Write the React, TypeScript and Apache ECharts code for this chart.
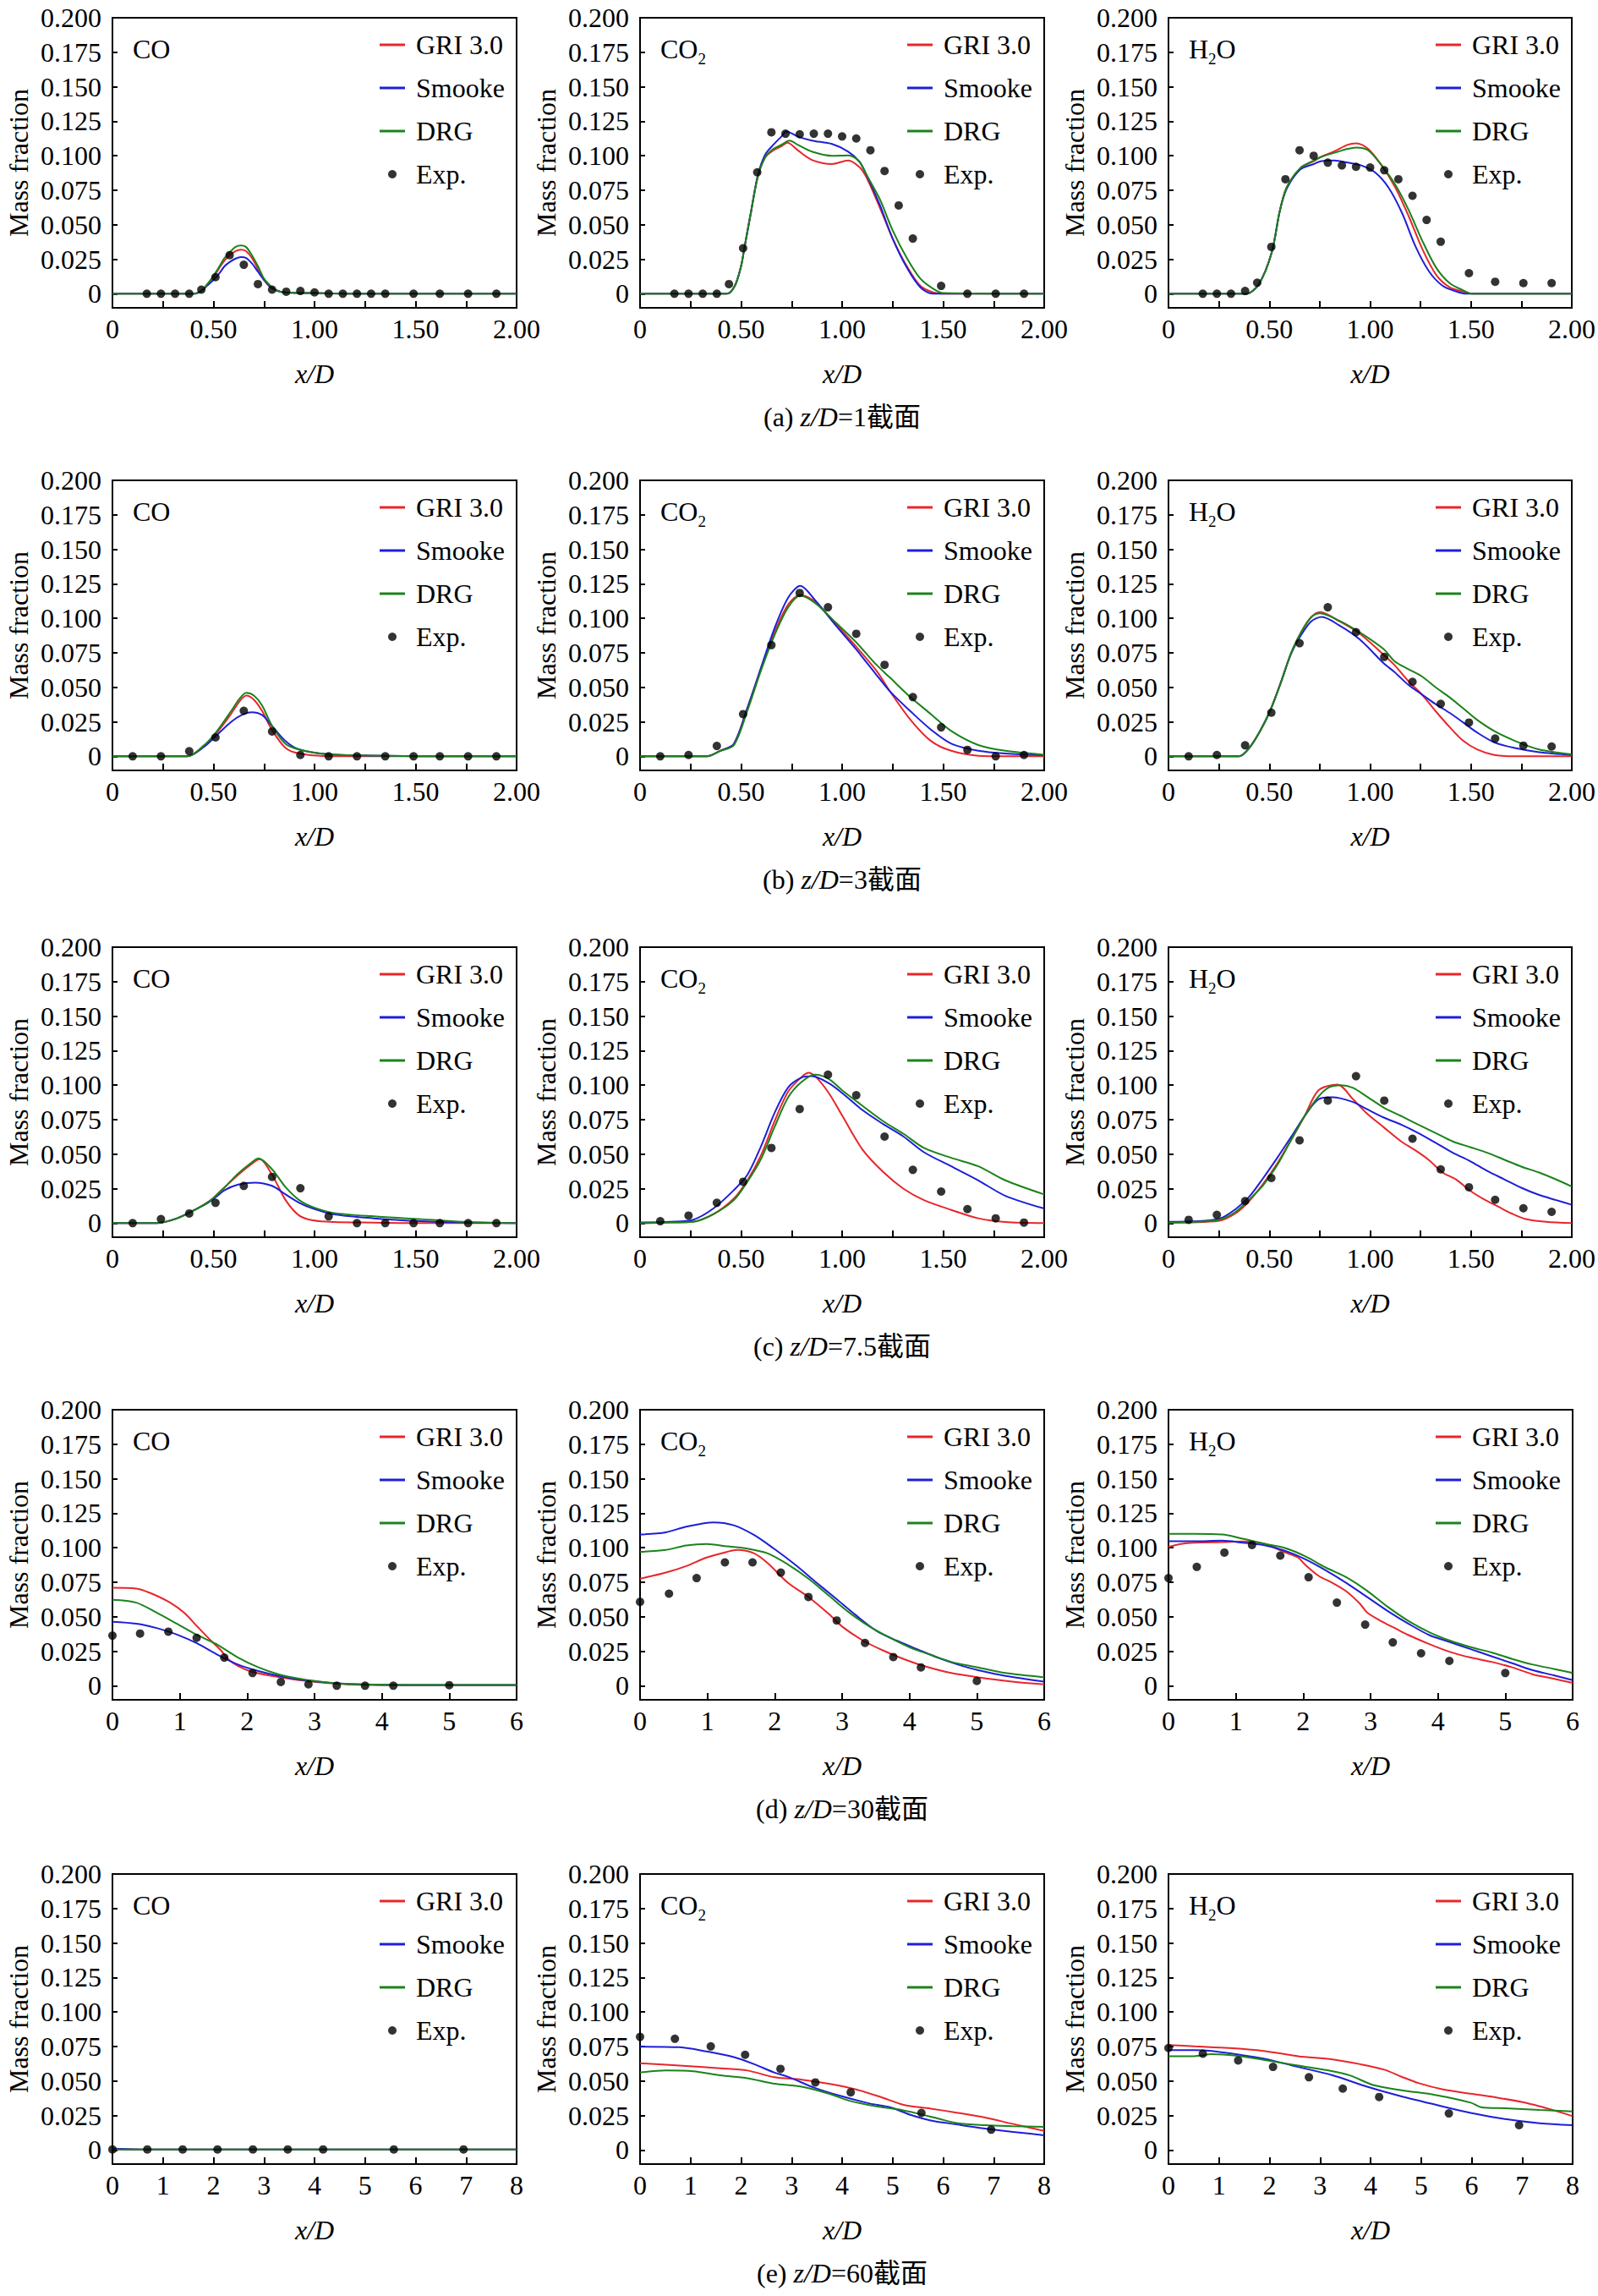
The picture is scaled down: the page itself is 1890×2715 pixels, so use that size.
import React, { useEffect, useRef } from 'react';
import * as echarts from 'echarts';

type P = [number, number];

// ---------- tick values ----------
const Y_TICKS = [0, 0.025, 0.05, 0.075, 0.1, 0.125, 0.15, 0.175, 0.2];
const X_TICKS_2 = [0, 0.25, 0.5, 0.75, 1, 1.25, 1.5, 1.75, 2];
const X_LABELS_2 = [0, 0.5, 1, 1.5, 2];
const X_TICKS_6 = [0, 1, 2, 3, 4, 5, 6];
const X_TICKS_8 = [0, 1, 2, 3, 4, 5, 6, 7, 8];

const SPECIES = ['CO', 'CO2', 'H2O'];
const CAPTION_LETTERS = ['a', 'b', 'c', 'd', 'e'];
const CAPTION_ZD = ['1', '3', '7.5', '30', '60'];
const NAMES = ['GRI 3.0', 'Smooke', 'DRG', 'Exp.'];

// ---------- (a) z/D = 1 ----------
const EXP_X_A = [0.17, 0.24, 0.31, 0.38, 0.44, 0.51, 0.58, 0.65, 0.72, 0.79, 0.86, 0.93, 1.0, 1.07, 1.14, 1.21, 1.28, 1.35, 1.49, 1.62, 1.76, 1.9];
const A1_EXP = [0, 0, 0, 0, 0.003, 0.012, 0.028, 0.021, 0.007, 0.003, 0.0015, 0.002, 0.001, 0, 0, 0, 0, 0, 0, 0, 0, 0];
const A2_EXP = [0, 0, 0, 0, 0.007, 0.033, 0.088, 0.117, 0.116, 0.1156, 0.116, 0.116, 0.114, 0.1125, 0.104, 0.089, 0.064, 0.04, 0.0057, 0, 0, 0];
const A3_EXP = [0, 0, 0, 0.002, 0.008, 0.034, 0.083, 0.104, 0.1, 0.095, 0.093, 0.092, 0.0915, 0.0895, 0.083, 0.071, 0.0535, 0.0377, 0.0149, 0.0087, 0.0077, 0.0077];

const A1_GRI: P[] = [[0, 0], [0.4, 0], [0.44, 0.002], [0.47, 0.007], [0.5, 0.012], [0.53, 0.019], [0.555, 0.024], [0.58, 0.028], [0.61, 0.031], [0.635, 0.032], [0.66, 0.031], [0.69, 0.026], [0.72, 0.018], [0.75, 0.01], [0.78, 0.005], [0.81, 0.0025], [0.85, 0.001], [1.0, 0.0005], [1.3, 0], [2, 0]];
const A1_SMK: P[] = [[0, 0], [0.4, 0], [0.44, 0.002], [0.47, 0.006], [0.5, 0.01], [0.53, 0.015], [0.555, 0.02], [0.58, 0.023], [0.61, 0.0255], [0.635, 0.0265], [0.66, 0.026], [0.69, 0.022], [0.72, 0.016], [0.75, 0.01], [0.78, 0.005], [0.81, 0.0025], [0.85, 0.001], [1.0, 0.0005], [1.3, 0], [2, 0]];
const A1_DRG: P[] = [[0, 0], [0.4, 0], [0.44, 0.002], [0.47, 0.007], [0.5, 0.013], [0.53, 0.02], [0.555, 0.026], [0.58, 0.03], [0.61, 0.034], [0.635, 0.035], [0.66, 0.034], [0.69, 0.028], [0.72, 0.02], [0.75, 0.011], [0.78, 0.006], [0.81, 0.0025], [0.85, 0.001], [1.0, 0.0005], [1.3, 0], [2, 0]];

const A2_GRI: P[] = [[0, 0], [0.43, 0], [0.47, 0.006], [0.5, 0.02], [0.515, 0.032], [0.55, 0.06], [0.583, 0.085], [0.62, 0.099], [0.66, 0.104], [0.7, 0.107], [0.73, 0.1095], [0.78, 0.104], [0.85, 0.097], [0.95, 0.094], [1.03, 0.0966], [1.084, 0.092], [1.118, 0.085], [1.185, 0.063], [1.25, 0.04], [1.32, 0.02], [1.387, 0.0057], [1.45, 0.001], [1.5, 0], [2, 0]];
const A2_SMK: P[] = [[0, 0], [0.43, 0], [0.47, 0.006], [0.5, 0.02], [0.515, 0.032], [0.55, 0.06], [0.583, 0.086], [0.62, 0.101], [0.66, 0.108], [0.7, 0.114], [0.724, 0.1176], [0.78, 0.114], [0.85, 0.111], [0.95, 0.1085], [1.03, 0.103], [1.084, 0.096], [1.118, 0.087], [1.185, 0.065], [1.25, 0.04], [1.32, 0.019], [1.387, 0.0047], [1.45, 0], [2, 0]];
const A2_DRG: P[] = [[0, 0], [0.43, 0], [0.47, 0.006], [0.5, 0.02], [0.515, 0.032], [0.55, 0.06], [0.583, 0.085], [0.62, 0.099], [0.66, 0.105], [0.7, 0.108], [0.74, 0.111], [0.78, 0.108], [0.85, 0.103], [0.95, 0.1], [1.03, 0.1003], [1.084, 0.096], [1.118, 0.087], [1.185, 0.069], [1.25, 0.046], [1.32, 0.026], [1.387, 0.011], [1.45, 0.0037], [1.5, 0.0005], [2, 0]];

const A3_GRI: P[] = [[0, 0], [0.384, 0], [0.448, 0.007], [0.512, 0.03], [0.552, 0.06], [0.586, 0.077], [0.653, 0.091], [0.72, 0.096], [0.754, 0.099], [0.82, 0.103], [0.889, 0.108], [0.93, 0.109], [0.99, 0.105], [1.057, 0.093], [1.125, 0.077], [1.19, 0.0566], [1.26, 0.032], [1.327, 0.0138], [1.394, 0.0047], [1.46, 0.0016], [1.5, 0], [2, 0]];
const A3_SMK: P[] = [[0, 0], [0.384, 0], [0.448, 0.007], [0.512, 0.03], [0.552, 0.06], [0.586, 0.076], [0.653, 0.09], [0.72, 0.094], [0.754, 0.096], [0.822, 0.0966], [0.889, 0.095], [0.956, 0.093], [1.024, 0.088], [1.091, 0.077], [1.158, 0.0586], [1.226, 0.034], [1.293, 0.016], [1.36, 0.0057], [1.428, 0.0016], [1.478, 0], [2, 0]];
const A3_DRG: P[] = [[0, 0], [0.384, 0], [0.448, 0.007], [0.512, 0.03], [0.552, 0.06], [0.586, 0.077], [0.653, 0.091], [0.72, 0.0965], [0.754, 0.099], [0.82, 0.102], [0.889, 0.105], [0.93, 0.106], [0.99, 0.104], [1.057, 0.093], [1.125, 0.079], [1.19, 0.061], [1.26, 0.038], [1.327, 0.019], [1.394, 0.0077], [1.46, 0.0026], [1.51, 0], [2, 0]];

// ---------- (b) z/D = 3 and (c) z/D = 7.5 ----------
const EXP_X_BC = [0.1, 0.24, 0.38, 0.51, 0.65, 0.79, 0.93, 1.07, 1.21, 1.35, 1.49, 1.62, 1.76, 1.9];
const B1_EXP = [0, 0, 0.0037, 0.0137, 0.033, 0.018, 0.001, 0, 0, 0, 0, 0, 0, 0];
const B2_EXP = [0, 0.001, 0.0075, 0.0306, 0.0806, 0.1184, 0.108, 0.0888, 0.0663, 0.0429, 0.021, 0.0047, 0, 0.001];
const B3_EXP = [0, 0.001, 0.008, 0.0316, 0.082, 0.108, 0.09, 0.072, 0.054, 0.038, 0.0245, 0.0129, 0.0078, 0.0071];

const B1_GRI: P[] = [[0, 0], [0.37, 0], [0.454, 0.008], [0.521, 0.018], [0.588, 0.031], [0.63, 0.04], [0.662, 0.044], [0.7, 0.041], [0.74, 0.033], [0.79, 0.019], [0.857, 0.006], [0.924, 0.002], [1.06, 0], [2, 0]];
const B1_SMK: P[] = [[0, 0], [0.37, 0], [0.454, 0.007], [0.521, 0.016], [0.588, 0.025], [0.64, 0.03], [0.689, 0.032], [0.74, 0.03], [0.79, 0.022], [0.857, 0.011], [0.924, 0.005], [1.06, 0.0016], [1.29, 0.0005], [1.6, 0], [2, 0]];
const B1_DRG: P[] = [[0, 0], [0.37, 0], [0.454, 0.008], [0.521, 0.019], [0.588, 0.033], [0.63, 0.042], [0.662, 0.046], [0.7, 0.044], [0.74, 0.037], [0.79, 0.022], [0.857, 0.009], [0.924, 0.005], [1.06, 0.0016], [1.29, 0.0005], [1.6, 0], [2, 0]];

const B2_GRI: P[] = [[0, 0], [0.33, 0], [0.397, 0.004], [0.464, 0.009], [0.531, 0.035], [0.598, 0.063], [0.666, 0.09], [0.733, 0.11], [0.793, 0.117], [0.867, 0.112], [0.968, 0.096], [1.069, 0.0796], [1.17, 0.062], [1.237, 0.047], [1.338, 0.0265], [1.439, 0.0112], [1.54, 0.004], [1.674, 0.0004], [1.808, 0], [2, 0]];
const B2_SMK: P[] = [[0, 0], [0.33, 0], [0.397, 0.004], [0.464, 0.009], [0.531, 0.035], [0.598, 0.064], [0.666, 0.093], [0.733, 0.115], [0.793, 0.1235], [0.867, 0.113], [0.968, 0.095], [1.069, 0.0776], [1.17, 0.059], [1.237, 0.047], [1.338, 0.0327], [1.439, 0.0194], [1.54, 0.0092], [1.674, 0.004], [1.808, 0.002], [2, 0.0008]];
const B2_DRG: P[] = [[0, 0], [0.33, 0], [0.397, 0.004], [0.464, 0.008], [0.531, 0.033], [0.598, 0.062], [0.666, 0.088], [0.733, 0.108], [0.793, 0.1163], [0.867, 0.111], [0.968, 0.097], [1.069, 0.0827], [1.17, 0.0663], [1.237, 0.057], [1.338, 0.0429], [1.439, 0.0306], [1.54, 0.0184], [1.674, 0.0082], [1.808, 0.004], [2, 0.0012]];

const B3_GRI: P[] = [[0, 0], [0.35, 0], [0.4, 0.006], [0.453, 0.018], [0.504, 0.033], [0.556, 0.053], [0.607, 0.0745], [0.658, 0.09], [0.709, 0.101], [0.752, 0.1045], [0.846, 0.098], [0.949, 0.0888], [1.068, 0.0735], [1.12, 0.0663], [1.188, 0.0547], [1.256, 0.0449], [1.325, 0.0327], [1.393, 0.0214], [1.462, 0.0112], [1.53, 0.005], [1.615, 0.001], [1.718, 0], [2, 0]];
const B3_SMK: P[] = [[0, 0], [0.35, 0], [0.4, 0.006], [0.453, 0.018], [0.504, 0.033], [0.556, 0.053], [0.607, 0.074], [0.658, 0.088], [0.709, 0.098], [0.76, 0.101], [0.846, 0.095], [0.949, 0.0847], [1.068, 0.0673], [1.12, 0.0612], [1.188, 0.052], [1.256, 0.0449], [1.325, 0.0378], [1.393, 0.0316], [1.462, 0.0245], [1.53, 0.0173], [1.615, 0.0102], [1.718, 0.006], [1.838, 0.003], [2, 0.001]];
const B3_DRG: P[] = [[0, 0], [0.35, 0], [0.4, 0.006], [0.453, 0.018], [0.504, 0.033], [0.556, 0.053], [0.607, 0.0745], [0.658, 0.09], [0.709, 0.101], [0.752, 0.1037], [0.846, 0.0984], [0.949, 0.0898], [1.068, 0.0776], [1.12, 0.069], [1.188, 0.0633], [1.256, 0.058], [1.325, 0.05], [1.393, 0.0429], [1.462, 0.0347], [1.53, 0.0265], [1.615, 0.0184], [1.718, 0.0112], [1.838, 0.005], [2, 0.0015]];

const C1_EXP = [0, 0.0029, 0.007, 0.0147, 0.027, 0.0335, 0.0253, 0.0049, 0, 0, 0, 0, 0, 0];
const C2_EXP = [0.0014, 0.0055, 0.0147, 0.03, 0.0545, 0.0827, 0.1076, 0.0927, 0.0627, 0.0386, 0.0229, 0.0102, 0.0035, 0.0004];
const C3_EXP = [0.0024, 0.006, 0.016, 0.0327, 0.06, 0.0888, 0.1065, 0.0888, 0.0612, 0.039, 0.026, 0.0169, 0.0108, 0.0082];

const C1_GRI: P[] = [[0, 0], [0.218, 0], [0.32, 0.0035], [0.42, 0.0106], [0.487, 0.0167], [0.555, 0.026], [0.622, 0.035], [0.68, 0.042], [0.729, 0.0463], [0.79, 0.035], [0.857, 0.0167], [0.924, 0.0055], [0.992, 0.002], [1.092, 0.0008], [1.294, 0.0004], [1.529, 0], [2, 0]];
const C1_SMK: P[] = [[0, 0], [0.218, 0], [0.32, 0.0035], [0.42, 0.0106], [0.487, 0.016], [0.555, 0.0239], [0.622, 0.028], [0.706, 0.0294], [0.79, 0.027], [0.857, 0.0208], [0.924, 0.0147], [0.992, 0.0106], [1.092, 0.0065], [1.294, 0.0035], [1.529, 0.0014], [1.73, 0.0005], [2, 0]];
const C1_DRG: P[] = [[0, 0], [0.218, 0], [0.32, 0.0035], [0.42, 0.0106], [0.487, 0.0167], [0.555, 0.026], [0.622, 0.036], [0.68, 0.043], [0.723, 0.047], [0.79, 0.039], [0.857, 0.026], [0.924, 0.0167], [0.992, 0.0116], [1.092, 0.0075], [1.294, 0.0049], [1.529, 0.0029], [1.73, 0.001], [2, 0]];

const C2_GRI: P[] = [[0, 0], [0.15, 0.0005], [0.262, 0.001], [0.363, 0.0065], [0.464, 0.0178], [0.531, 0.031], [0.598, 0.049], [0.666, 0.0739], [0.733, 0.0953], [0.8, 0.106], [0.834, 0.109], [0.87, 0.106], [0.934, 0.0943], [1.0, 0.078], [1.1, 0.0535], [1.203, 0.0371], [1.304, 0.0249], [1.405, 0.0167], [1.54, 0.0096], [1.674, 0.0035], [1.808, 0.0008], [2, 0]];
const C2_SMK: P[] = [[0, 0.0005], [0.15, 0.001], [0.262, 0.0024], [0.363, 0.0106], [0.464, 0.0239], [0.531, 0.035], [0.598, 0.0555], [0.666, 0.08], [0.733, 0.0984], [0.8, 0.1055], [0.85, 0.1065], [0.934, 0.1014], [1.0, 0.0943], [1.1, 0.082], [1.203, 0.0718], [1.304, 0.0627], [1.405, 0.0514], [1.54, 0.0412], [1.674, 0.031], [1.808, 0.0198], [2, 0.0106]];
const C2_DRG: P[] = [[0, 0], [0.15, 0.0005], [0.262, 0.001], [0.363, 0.0065], [0.464, 0.0167], [0.531, 0.03], [0.598, 0.0463], [0.666, 0.0698], [0.733, 0.0912], [0.8, 0.1024], [0.867, 0.1076], [0.934, 0.1045], [1.0, 0.0963], [1.1, 0.0851], [1.203, 0.0739], [1.304, 0.0647], [1.405, 0.0545], [1.54, 0.0473], [1.674, 0.0412], [1.808, 0.031], [2, 0.0208]];

const C3_GRI: P[] = [[0, 0.0004], [0.248, 0.0016], [0.333, 0.0071], [0.402, 0.0163], [0.47, 0.0286], [0.538, 0.0429], [0.607, 0.06], [0.675, 0.0776], [0.744, 0.0963], [0.838, 0.1004], [0.915, 0.0898], [0.983, 0.0796], [1.068, 0.0694], [1.154, 0.0592], [1.222, 0.053], [1.29, 0.0459], [1.359, 0.0367], [1.427, 0.0316], [1.496, 0.0235], [1.564, 0.0173], [1.632, 0.0122], [1.7, 0.0071], [1.77, 0.003], [1.872, 0.001], [2, 0]];
const C3_SMK: P[] = [[0, 0.001], [0.248, 0.003], [0.333, 0.0102], [0.402, 0.0194], [0.47, 0.0327], [0.538, 0.047], [0.607, 0.0622], [0.675, 0.0776], [0.744, 0.0898], [0.812, 0.0912], [0.915, 0.0878], [0.983, 0.0827], [1.068, 0.0765], [1.154, 0.0714], [1.239, 0.0653], [1.325, 0.0582], [1.41, 0.051], [1.496, 0.0449], [1.581, 0.0378], [1.667, 0.0316], [1.752, 0.0255], [1.838, 0.0204], [1.923, 0.0167], [2, 0.0133]];
const C3_DRG: P[] = [[0, 0.0004], [0.248, 0.0024], [0.333, 0.0082], [0.402, 0.0173], [0.47, 0.0276], [0.538, 0.0418], [0.607, 0.06], [0.675, 0.0776], [0.744, 0.0918], [0.795, 0.0984], [0.855, 0.1], [0.915, 0.098], [0.983, 0.0918], [1.068, 0.0837], [1.154, 0.0776], [1.239, 0.0714], [1.325, 0.0653], [1.41, 0.0592], [1.496, 0.0551], [1.581, 0.051], [1.667, 0.0459], [1.752, 0.0408], [1.838, 0.0367], [1.923, 0.0316], [2, 0.0265]];

// ---------- (d) z/D = 30 ----------
const D1_EXP_X = [0, 0.41, 0.83, 1.25, 1.66, 2.08, 2.5, 2.91, 3.33, 3.75, 4.17, 5.0];
const D1_EXP = [0.0363, 0.0378, 0.0392, 0.0347, 0.0204, 0.0092, 0.0027, 0.001, 0, 0, 0, 0.0004];
const D2_EXP_X = [0, 0.43, 0.84, 1.26, 1.67, 2.09, 2.5, 2.92, 3.34, 3.76, 4.17, 5.0];
const D2_EXP = [0.0608, 0.0667, 0.078, 0.0894, 0.0894, 0.082, 0.0643, 0.0473, 0.031, 0.0208, 0.0133, 0.0035];
const D3_EXP_X = [0, 0.42, 0.83, 1.24, 1.66, 2.08, 2.5, 2.92, 3.33, 3.75, 4.17, 5.0];
const D3_EXP = [0.078, 0.0861, 0.0965, 0.102, 0.0943, 0.0786, 0.0602, 0.0443, 0.0314, 0.0235, 0.018, 0.0092];

const D1_GRI: P[] = [[0, 0.071], [0.353, 0.0704], [0.555, 0.0673], [0.857, 0.0602], [1.06, 0.053], [1.26, 0.0429], [1.462, 0.0327], [1.613, 0.0255], [1.714, 0.0194], [1.866, 0.0143], [2.067, 0.0102], [2.37, 0.0071], [2.773, 0.004], [3.176, 0.002], [3.58, 0.0008], [4.39, 0.0004], [6, 0.0004]];
const D1_SMK: P[] = [[0, 0.0463], [0.353, 0.0449], [0.655, 0.0418], [0.958, 0.0371], [1.26, 0.0306], [1.563, 0.0224], [1.866, 0.0153], [2.168, 0.0106], [2.47, 0.0071], [2.773, 0.0045], [3.176, 0.0024], [3.58, 0.0012], [4.39, 0.0006], [6, 0.0006]];
const D1_DRG: P[] = [[0, 0.0622], [0.353, 0.0602], [0.655, 0.053], [0.958, 0.0449], [1.26, 0.0367], [1.563, 0.0296], [1.866, 0.0204], [2.168, 0.0133], [2.47, 0.0082], [2.773, 0.0051], [3.176, 0.0024], [3.58, 0.0012], [4.39, 0.0006], [6, 0.0006]];

const D2_GRI: P[] = [[0, 0.0776], [0.383, 0.082], [0.686, 0.0867], [0.988, 0.0929], [1.29, 0.097], [1.44, 0.0984], [1.694, 0.0959], [1.896, 0.0888], [2.198, 0.0745], [2.5, 0.0643], [2.803, 0.052], [3.0, 0.0429], [3.31, 0.0327], [3.61, 0.0255], [3.913, 0.0194], [4.215, 0.0143], [4.618, 0.0092], [5.02, 0.0061], [5.526, 0.003], [6, 0.001]];
const D2_SMK: P[] = [[0, 0.1096], [0.383, 0.1112], [0.686, 0.1153], [1.089, 0.1184], [1.39, 0.1163], [1.694, 0.1092], [1.997, 0.099], [2.3, 0.0878], [2.6, 0.0755], [2.904, 0.0633], [3.207, 0.051], [3.509, 0.0398], [3.81, 0.0327], [4.114, 0.0265], [4.417, 0.0204], [4.72, 0.0153], [5.02, 0.0112], [5.425, 0.0071], [6, 0.003]];
const D2_DRG: P[] = [[0, 0.097], [0.383, 0.0984], [0.686, 0.1016], [0.988, 0.1027], [1.29, 0.101], [1.593, 0.0994], [1.896, 0.0959], [2.198, 0.0878], [2.5, 0.0776], [2.803, 0.0653], [3.106, 0.053], [3.408, 0.0429], [3.71, 0.0347], [4.013, 0.0276], [4.316, 0.0224], [4.618, 0.0173], [5.02, 0.0133], [5.425, 0.0092], [6, 0.0061]];

const D3_GRI: P[] = [[0, 0.1006], [0.18, 0.1027], [0.385, 0.1037], [0.795, 0.1041], [1.103, 0.1045], [1.41, 0.103], [1.718, 0.0969], [1.923, 0.0929], [2.026, 0.0878], [2.23, 0.0796], [2.436, 0.0745], [2.641, 0.0684], [2.846, 0.0592], [2.949, 0.0531], [3.154, 0.0469], [3.359, 0.0418], [3.564, 0.0367], [3.872, 0.0302], [4.179, 0.0245], [4.487, 0.0204], [4.795, 0.0173], [5.103, 0.0133], [5.41, 0.0082], [5.718, 0.0051], [6, 0.002]];
const D3_SMK: P[] = [[0, 0.1047], [0.385, 0.1047], [0.795, 0.1051], [1.103, 0.1037], [1.41, 0.102], [1.718, 0.098], [2.026, 0.0918], [2.333, 0.0837], [2.641, 0.0745], [2.949, 0.0643], [3.256, 0.0541], [3.564, 0.0449], [3.872, 0.0367], [4.179, 0.0316], [4.487, 0.0265], [4.795, 0.0214], [5.103, 0.0163], [5.41, 0.0112], [5.718, 0.0076], [6, 0.0041]];
const D3_DRG: P[] = [[0, 0.11], [0.385, 0.11], [0.795, 0.1096], [1.103, 0.1065], [1.41, 0.103], [1.718, 0.1], [2.026, 0.0939], [2.333, 0.0857], [2.641, 0.0786], [2.949, 0.0688], [3.256, 0.0571], [3.564, 0.0469], [3.872, 0.0388], [4.179, 0.0327], [4.487, 0.028], [4.795, 0.0241], [5.103, 0.0194], [5.41, 0.0153], [5.718, 0.0122], [6, 0.0092]];

// ---------- (e) z/D = 60 ----------
const E1_EXP_X = [0, 0.69, 1.39, 2.08, 2.78, 3.47, 4.17, 5.57, 6.95];
const E1_EXP = [0.0004, 0.0004, 0.0004, 0.0004, 0.0004, 0.0004, 0.0004, 0.0004, 0.0004];
const E2_EXP_X = [0, 0.69, 1.4, 2.08, 2.78, 3.47, 4.17, 5.57, 6.95];
const E2_EXP = [0.082, 0.0806, 0.0751, 0.069, 0.0588, 0.049, 0.0418, 0.0269, 0.0147];
const E3_EXP_X = [0, 0.68, 1.38, 2.07, 2.78, 3.45, 4.17, 5.55, 6.94];
const E3_EXP = [0.0739, 0.0698, 0.0649, 0.0602, 0.0527, 0.0445, 0.0384, 0.0265, 0.018];

const E1_GRI: P[] = [[0, 0.0004], [2, 0.0004], [4, 0.0004], [6, 0.0004], [8, 0.0004]];
const E1_SMK: P[] = [[0, 0.001], [0.5, 0.0005], [2, 0.0004], [4, 0.0004], [6, 0.0004], [8, 0.0004]];
const E1_DRG: P[] = [[0, 0.0004], [2, 0.0004], [4, 0.0004], [6, 0.0004], [8, 0.0004]];

const E2_GRI: P[] = [[0, 0.0629], [0.78, 0.0612], [1.587, 0.0592], [2.124, 0.0576], [2.662, 0.0527], [3.2, 0.051], [3.738, 0.048], [4.276, 0.0439], [4.813, 0.0378], [5.217, 0.0327], [5.755, 0.03], [6.292, 0.0269], [6.83, 0.0235], [7.368, 0.019], [8, 0.0139]];
const E2_SMK: P[] = [[0, 0.0749], [0.78, 0.0745], [1.318, 0.0714], [1.855, 0.0673], [2.259, 0.0622], [2.662, 0.0561], [2.931, 0.053], [3.469, 0.0449], [4.007, 0.0388], [4.545, 0.0337], [4.948, 0.031], [5.351, 0.0255], [5.755, 0.0214], [6.292, 0.0184], [6.965, 0.0149], [7.503, 0.0127], [8, 0.0106]];
const E2_DRG: P[] = [[0, 0.0561], [0.511, 0.0576], [1.049, 0.0571], [1.587, 0.0541], [2.124, 0.052], [2.662, 0.048], [3.2, 0.0459], [3.738, 0.0408], [4.141, 0.0357], [4.679, 0.0316], [5.082, 0.0296], [5.486, 0.0265], [5.889, 0.0229], [6.292, 0.0194], [6.83, 0.018], [7.368, 0.0173], [8, 0.0167]];

const E3_GRI: P[] = [[0, 0.0761], [0.513, 0.0751], [1.197, 0.0739], [1.88, 0.0718], [2.564, 0.068], [3.248, 0.0657], [3.795, 0.0622], [4.274, 0.0582], [4.615, 0.0531], [4.957, 0.0484], [5.436, 0.0439], [5.983, 0.0408], [6.53, 0.0378], [7.009, 0.0347], [7.35, 0.0316], [7.692, 0.028], [8, 0.0245]];
const E3_SMK: P[] = [[0, 0.0724], [0.513, 0.0724], [0.855, 0.0718], [1.333, 0.0694], [1.88, 0.0663], [2.564, 0.0602], [3.248, 0.0541], [3.932, 0.0459], [4.615, 0.0388], [5.299, 0.0327], [5.983, 0.0269], [6.667, 0.0224], [7.35, 0.0194], [8, 0.018]];
const E3_DRG: P[] = [[0, 0.068], [0.513, 0.068], [0.855, 0.0694], [1.333, 0.0684], [1.88, 0.0653], [2.564, 0.0612], [3.248, 0.0571], [3.59, 0.0541], [4.068, 0.0469], [4.615, 0.0433], [5.299, 0.0398], [5.983, 0.0343], [6.188, 0.031], [6.667, 0.0302], [7.35, 0.029], [8, 0.028]];

// ---------- panel table ----------
interface Panel {
  row: number; col: number; xMax: number; xTicks: number[]; xLabels: number[];
  gri: P[]; smk: P[]; drg: P[]; expX: number[]; expY: number[];
}

const PANELS: Panel[] = [
  { row: 0, col: 0, xMax: 2, xTicks: X_TICKS_2, xLabels: X_LABELS_2, gri: A1_GRI, smk: A1_SMK, drg: A1_DRG, expX: EXP_X_A, expY: A1_EXP },
  { row: 0, col: 1, xMax: 2, xTicks: X_TICKS_2, xLabels: X_LABELS_2, gri: A2_GRI, smk: A2_SMK, drg: A2_DRG, expX: EXP_X_A, expY: A2_EXP },
  { row: 0, col: 2, xMax: 2, xTicks: X_TICKS_2, xLabels: X_LABELS_2, gri: A3_GRI, smk: A3_SMK, drg: A3_DRG, expX: EXP_X_A, expY: A3_EXP },
  { row: 1, col: 0, xMax: 2, xTicks: X_TICKS_2, xLabels: X_LABELS_2, gri: B1_GRI, smk: B1_SMK, drg: B1_DRG, expX: EXP_X_BC, expY: B1_EXP },
  { row: 1, col: 1, xMax: 2, xTicks: X_TICKS_2, xLabels: X_LABELS_2, gri: B2_GRI, smk: B2_SMK, drg: B2_DRG, expX: EXP_X_BC, expY: B2_EXP },
  { row: 1, col: 2, xMax: 2, xTicks: X_TICKS_2, xLabels: X_LABELS_2, gri: B3_GRI, smk: B3_SMK, drg: B3_DRG, expX: EXP_X_BC, expY: B3_EXP },
  { row: 2, col: 0, xMax: 2, xTicks: X_TICKS_2, xLabels: X_LABELS_2, gri: C1_GRI, smk: C1_SMK, drg: C1_DRG, expX: EXP_X_BC, expY: C1_EXP },
  { row: 2, col: 1, xMax: 2, xTicks: X_TICKS_2, xLabels: X_LABELS_2, gri: C2_GRI, smk: C2_SMK, drg: C2_DRG, expX: EXP_X_BC, expY: C2_EXP },
  { row: 2, col: 2, xMax: 2, xTicks: X_TICKS_2, xLabels: X_LABELS_2, gri: C3_GRI, smk: C3_SMK, drg: C3_DRG, expX: EXP_X_BC, expY: C3_EXP },
  { row: 3, col: 0, xMax: 6, xTicks: X_TICKS_6, xLabels: X_TICKS_6, gri: D1_GRI, smk: D1_SMK, drg: D1_DRG, expX: D1_EXP_X, expY: D1_EXP },
  { row: 3, col: 1, xMax: 6, xTicks: X_TICKS_6, xLabels: X_TICKS_6, gri: D2_GRI, smk: D2_SMK, drg: D2_DRG, expX: D2_EXP_X, expY: D2_EXP },
  { row: 3, col: 2, xMax: 6, xTicks: X_TICKS_6, xLabels: X_TICKS_6, gri: D3_GRI, smk: D3_SMK, drg: D3_DRG, expX: D3_EXP_X, expY: D3_EXP },
  { row: 4, col: 0, xMax: 8, xTicks: X_TICKS_8, xLabels: X_TICKS_8, gri: E1_GRI, smk: E1_SMK, drg: E1_DRG, expX: E1_EXP_X, expY: E1_EXP },
  { row: 4, col: 1, xMax: 8, xTicks: X_TICKS_8, xLabels: X_TICKS_8, gri: E2_GRI, smk: E2_SMK, drg: E2_DRG, expX: E2_EXP_X, expY: E2_EXP },
  { row: 4, col: 2, xMax: 8, xTicks: X_TICKS_8, xLabels: X_TICKS_8, gri: E3_GRI, smk: E3_SMK, drg: E3_DRG, expX: E3_EXP_X, expY: E3_EXP },
];

// ---------- layout & style ----------
const FONT = "'Liberation Serif', 'Times New Roman', 'Noto Sans CJK SC', serif";
const FS = 32;
const COL_LEFT = [133, 757, 1382];
const ROW_TOP = [21, 568, 1120, 1667, 2216];
const PLOT_W = 478;
const PLOT_H = 343;
const Y_MIN = -0.0102;
const COLORS = { gri: '#e8262b', smk: '#1e1ed8', drg: '#1b831b', exp: '#000000' };
const LINE_ICON = 'path://M0,0L30,0L30,3L0,3Z';

function speciesRich(s: string): string {
  if (s === 'CO2') return '{m|CO}{s|2}';
  if (s === 'H2O') return '{m|H}{s|2}{m|O}';
  return '{m|' + s + '}';
}

function buildOption(): any {
  const grid: any[] = [];
  const xAxis: any[] = [];
  const yAxis: any[] = [];
  const series: any[] = [];
  const legend: any[] = [];
  const graphic: any[] = [];

  PANELS.forEach((p, i) => {
    const left = COL_LEFT[p.col];
    const top = ROW_TOP[p.row];
    grid.push({ left, top, width: PLOT_W, height: PLOT_H, show: true, borderColor: '#000', borderWidth: 2, backgroundColor: 'transparent' });
    xAxis.push({
      type: 'value', gridIndex: i, min: 0, max: p.xMax, interval: p.xTicks[1] - p.xTicks[0],
      name: 'x/D', nameLocation: 'middle', nameGap: 62,
      nameTextStyle: { fontFamily: FONT, fontSize: FS, fontStyle: 'italic', color: '#000' },
      axisLine: { show: true, onZero: false, lineStyle: { color: '#000', width: 2 } },
      axisTick: { show: true, inside: true, length: 8, customValues: p.xTicks, lineStyle: { color: '#000', width: 2 } },
      axisLabel: {
        customValues: p.xLabels, margin: 12, fontFamily: FONT, fontSize: FS, color: '#000', lineHeight: 26,
        formatter: (v: number) => (v === 0 ? '0' : p.xMax === 2 ? v.toFixed(2) : String(v)),
      },
      splitLine: { show: false },
    });
    yAxis.push({
      type: 'value', gridIndex: i, min: Y_MIN, max: 0.2,
      name: 'Mass fraction', nameLocation: 'middle', nameGap: 95,
      nameTextStyle: { fontFamily: FONT, fontSize: FS, color: '#000' },
      axisLine: { show: true, onZero: false, lineStyle: { color: '#000', width: 2 } },
      axisTick: { show: true, inside: true, length: 6, customValues: Y_TICKS, lineStyle: { color: '#000', width: 2 } },
      axisLabel: {
        customValues: Y_TICKS, margin: 13, fontFamily: FONT, fontSize: FS, color: '#000', lineHeight: 24,
        formatter: (v: number) => (Math.abs(v) < 1e-9 ? '0' : v.toFixed(3)),
      },
      splitLine: { show: false },
    });
    const lineBase = { type: 'line', xAxisIndex: i, yAxisIndex: i, symbol: 'none', showSymbol: false, smooth: 0.3, clip: true };
    series.push({ ...lineBase, name: NAMES[0], data: p.gri, lineStyle: { color: COLORS.gri, width: 2 }, itemStyle: { color: COLORS.gri }, z: 2 });
    series.push({ ...lineBase, name: NAMES[1], data: p.smk, lineStyle: { color: COLORS.smk, width: 2 }, itemStyle: { color: COLORS.smk }, z: 3 });
    series.push({ ...lineBase, name: NAMES[2], data: p.drg, lineStyle: { color: COLORS.drg, width: 2 }, itemStyle: { color: COLORS.drg }, z: 4 });
    series.push({
      type: 'scatter', name: NAMES[3], xAxisIndex: i, yAxisIndex: i, symbol: 'circle', symbolSize: 10,
      data: p.expX.map((x, j) => [x, p.expY[j]]), itemStyle: { color: COLORS.exp }, z: 5,
    });
    legend.push({
      orient: 'vertical', left: left + 316, top: top + 16, padding: 0, itemGap: 19,
      itemWidth: 30, itemHeight: 10, selectedMode: false, symbolKeepAspect: true,
      textStyle: { fontFamily: FONT, fontSize: FS, color: '#000', padding: [0, 0, 0, 8] },
      data: [
        { name: NAMES[0], icon: LINE_ICON },
        { name: NAMES[1], icon: LINE_ICON },
        { name: NAMES[2], icon: LINE_ICON },
        { name: NAMES[3], icon: 'circle' },
      ],
    });
    graphic.push({
      type: 'text', x: left + 24, y: top + 39,
      style: {
        text: speciesRich(SPECIES[p.col]), fill: '#000',
        verticalAlign: 'middle', textVerticalAlign: 'middle',
        rich: {
          m: { fontFamily: FONT, fontSize: FS, fill: '#000', color: '#000', verticalAlign: 'bottom', padding: [0, 0, 5, 0] },
          s: { fontFamily: FONT, fontSize: 19, fill: '#000', color: '#000', verticalAlign: 'bottom' },
        },
      },
    });
  });

  CAPTION_LETTERS.forEach((letter, r) => {
    graphic.push({
      type: 'text', x: COL_LEFT[1] + PLOT_W / 2, y: ROW_TOP[r] + 472,
      style: {
        text: '{n|(' + letter + ') }{i|z/D}{n|=' + CAPTION_ZD[r] + '截面}',
        align: 'center', textAlign: 'center', verticalAlign: 'middle', textVerticalAlign: 'middle', fill: '#000',
        rich: {
          n: { fontFamily: FONT, fontSize: FS, fill: '#000', color: '#000' },
          i: { fontFamily: FONT, fontSize: FS, fontStyle: 'italic', fill: '#000', color: '#000' },
        },
      },
    });
  });

  return { animation: false, backgroundColor: '#ffffff', grid, xAxis, yAxis, series, legend, graphic };
}

export default function App() {
  const ref = useRef<HTMLDivElement>(null);
  useEffect(() => {
    document.body.style.margin = '0';
    const chart = echarts.init(ref.current as HTMLDivElement, undefined, { renderer: 'svg' });
    chart.setOption(buildOption());
    return () => chart.dispose();
  }, []);
  return <div ref={ref} style={{ width: 1890, height: 2715 }} />;
}
